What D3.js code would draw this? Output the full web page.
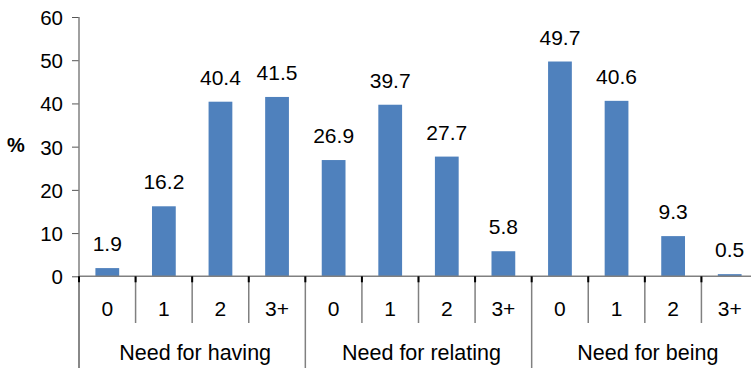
<!DOCTYPE html>
<html>
<head>
<meta charset="utf-8">
<script src="https://cdn.jsdelivr.net/npm/d3@7"></script>
<style>
  body { margin: 0; background: #fff; }
  svg { display: block; font-family: "Liberation Sans", Arial, sans-serif; }
</style>
</head>
<body>
<svg id="chart"></svg>
<script>
// Data
const groups = ['Need for having', 'Need for relating', 'Need for being'];
const levels = ['0', '1', '2', '3+'];
const havingValues = [1.9, 16.2, 40.4, 41.5];
const relatingValues = [26.9, 39.7, 27.7, 5.8];
const beingValues = [49.7, 40.6, 9.3, 0.5];
const yTicks = [0, 10, 20, 30, 40, 50, 60];

const width = 751;
const height = 368;

// Flatten into one row per bar
const seriesByGroup = [havingValues, relatingValues, beingValues];
const bars = [];
groups.forEach((g, gi) => {
    levels.forEach((lv, li) => {
        bars.push({ key: g + '|' + lv, group: g, level: lv, value: seriesByGroup[gi][li] });
    });
});

const svg = d3.select('#chart')
    .attr('width', width)
    .attr('height', height);

const x0 = 79;
const x1 = 758;
const yTop = 17;
const yBase = 276.3;

const x = d3.scaleBand()
    .domain(bars.map(d => d.key))
    .range([x0, x1])
    .paddingInner(0.58)
    .paddingOuter(0.29);

const step = x.step();

const y = d3.scaleLinear()
    .domain([0, 60])
    .range([yBase, yTop]);

// Y axis
const yAxis = svg.append('g')
    .attr('transform', `translate(${x0},0)`)
    .call(d3.axisLeft(y).tickValues(yTicks).tickSize(7).tickPadding(9));
yAxis.select('.domain').remove();
yAxis.selectAll('.tick line').attr('stroke', '#555');
yAxis.selectAll('.tick text')
    .attr('fill', '#000')
    .style('font-size', '20.5px')
    .attr('dy', '0.36em');

svg.append('line')
    .attr('x1', x0).attr('x2', x0)
    .attr('y1', yTop).attr('y2', height)
    .attr('stroke', '#808080')
    .attr('stroke-width', 1.5);

// % label
svg.append('text')
    .attr('x', 16)
    .attr('y', 145)
    .attr('text-anchor', 'middle')
    .attr('dominant-baseline', 'central')
    .style('font-size', '20px')
    .style('font-weight', 'bold')
    .text('%');

// Bars
svg.selectAll('rect.bar')
    .data(bars)
    .enter()
    .append('rect')
    .attr('class', 'bar')
    .attr('x', d => x(d.key))
    .attr('width', x.bandwidth())
    .attr('y', d => y(d.value))
    .attr('height', d => yBase - y(d.value))
    .attr('fill', '#4F81BD');

// Value labels
svg.selectAll('text.val')
    .data(bars)
    .enter()
    .append('text')
    .attr('class', 'val')
    .attr('x', d => x(d.key) + x.bandwidth() / 2)
    .attr('y', d => y(d.value) - 17)
    .attr('text-anchor', 'middle')
    .style('font-size', '21px')
    .text(d => d.value.toFixed(1));

// Bottom axis line
svg.append('line')
    .attr('x1', x0).attr('x2', x1)
    .attr('y1', yBase).attr('y2', yBase)
    .attr('stroke', '#808080')
    .attr('stroke-width', 1.5);

// Category separators
const sepIdx = d3.range(0, bars.length + 1);
svg.selectAll('line.sep')
    .data(sepIdx)
    .enter()
    .append('line')
    .attr('class', 'sep')
    .attr('x1', i => x0 + i * step)
    .attr('x2', i => x0 + i * step)
    .attr('y1', yBase)
    .attr('y2', i => (i % levels.length === 0) ? height : 323)
    .attr('stroke', '#808080')
    .attr('stroke-width', 1.5);

// small dark ticks at the axis
svg.selectAll('line.tk')
    .data(sepIdx)
    .enter()
    .append('line')
    .attr('class', 'tk')
    .attr('x1', i => x0 + i * step)
    .attr('x2', i => x0 + i * step)
    .attr('y1', yBase)
    .attr('y2', yBase + 6)
    .attr('stroke', '#000')
    .attr('stroke-width', 2);

// Category labels
svg.selectAll('text.cat')
    .data(bars)
    .enter()
    .append('text')
    .attr('class', 'cat')
    .attr('x', d => x(d.key) + x.bandwidth() / 2)
    .attr('y', 316)
    .attr('text-anchor', 'middle')
    .style('font-size', '21px')
    .text(d => d.level);

// Group labels
svg.selectAll('text.grp')
    .data(groups)
    .enter()
    .append('text')
    .attr('class', 'grp')
    .attr('x', (g, i) => x0 + (i * levels.length + levels.length / 2) * step + 3)
    .attr('y', 360)
    .attr('text-anchor', 'middle')
    .style('font-size', '21.5px')
    .text(g => g);
</script>
</body>
</html>
